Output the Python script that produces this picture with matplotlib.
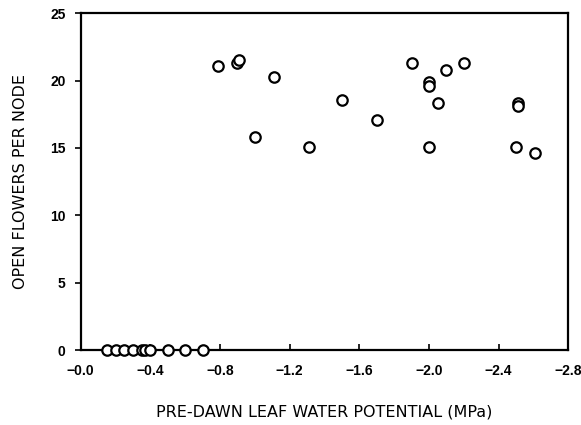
import matplotlib
matplotlib.use("Agg")
import matplotlib.pyplot as plt

# pre-dawn leaf water potential (MPa) and open flowers per node
psi_zero = [-0.15, -0.20, -0.25, -0.30, -0.35, -0.37, -0.40, -0.50, -0.60, -0.70]
flowers_zero = [0, 0, 0, 0, 0, 0, 0, 0, 0, 0]

psi_open = [-0.79, -0.90, -0.91, -1.00, -1.11, -1.31, -1.50, -1.70, -1.90,
            -2.00, -2.00, -2.00, -2.05, -2.10, -2.20, -2.50, -2.51, -2.51, -2.61]
flowers_open = [21.05, 21.3, 21.55, 15.85, 20.3, 15.05, 18.55, 17.1, 21.3,
                19.9, 19.6, 15.05, 18.3, 20.8, 21.3, 15.05, 18.3, 18.1, 14.6]

xticks = [0.0, -0.4, -0.8, -1.2, -1.6, -2.0, -2.4, -2.8]
xticklabels = ["\u22120.0", "\u22120.4", "\u22120.8", "\u22121.2", "\u22121.6",
               "\u22122.0", "\u22122.4", "\u22122.8"]
yticks = [0, 5, 10, 15, 20, 25]

plt.rcParams["font.family"] = ["Liberation Sans", "DejaVu Sans"]

fig = plt.figure(figsize=(5.81, 4.25), dpi=100)
ax = fig.add_axes([0.139, 0.176, 0.839, 0.793])

style = dict(marker="o", linestyle="none", markersize=7.5,
             markerfacecolor="white", markeredgecolor="black", markeredgewidth=1.6)
ax.plot(psi_zero, flowers_zero, clip_on=False, zorder=3, **style)
ax.plot(psi_open, flowers_open, clip_on=False, zorder=3, **style)

ax.set_xlim(0, -2.8)
ax.set_ylim(0, 25)
ax.set_xticks(xticks)
ax.set_xticklabels(xticklabels, fontweight="bold", fontsize=10)
ax.set_yticks(yticks)
ax.set_yticklabels([str(t) for t in yticks], fontweight="bold", fontsize=10)
ax.tick_params(axis="x", direction="in", length=4, width=1.2, pad=10)
ax.tick_params(axis="y", direction="out", length=4, width=1.2, pad=7)
for s in ax.spines.values():
    s.set_linewidth(1.6)

ax.set_ylabel("OPEN FLOWERS PER NODE", fontsize=11.5, family="DejaVu Sans",
              labelpad=16)
fig.text(0.5 * (0.139 + 0.978), 1 - 412 / 425, "PRE-DAWN LEAF WATER POTENTIAL (MPa)",
         fontsize=11.5, family="DejaVu Sans", ha="center", va="center")

fig.savefig("out.png", dpi=100)
